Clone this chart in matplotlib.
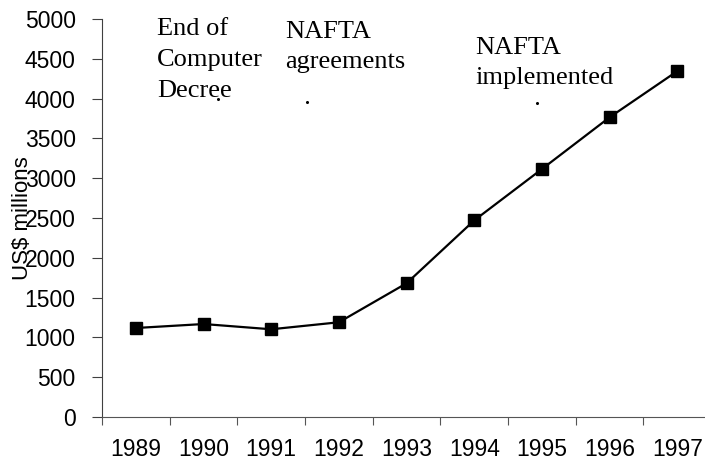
import matplotlib
matplotlib.use("Agg")
import matplotlib.pyplot as plt

years = ["1989", "1990", "1991", "1992", "1993", "1994", "1995", "1996", "1997"]
exports = [1118, 1168, 1102, 1190, 1680, 2470, 3115, 3765, 4345]

events = ["End of\nComputer\nDecree", "NAFTA\nagreements", "NAFTA\nimplemented"]
event_x = [0.31, 2.21, 5.02]
event_y = [5010, 4980, 4780]

fig = plt.figure(figsize=(7.05, 4.62), dpi=100)
ax = fig.add_axes([0.1447, 0.0974, 0.864, 0.8615])

xs = list(range(len(years)))
ax.plot(xs, exports, color="black", lw=1.6, marker="s", ms=8.6,
        mfc="black", mec="black")

ax.set_xlim(-0.5, len(years) - 0.5)
ax.set_ylim(0, 5000)
ax.set_yticks(range(0, 5001, 500))

# category axis: ticks between years, labels on the years
ax.set_xticks([i - 0.5 for i in range(len(years) + 1)])
ax.set_xticklabels([])
ax.set_xticks(xs, minor=True)
ax.set_xticklabels(years, minor=True)
ax.tick_params(axis="x", which="minor", length=0, pad=15)
ax.tick_params(axis="x", which="major", length=6, direction="out", color="#555555")
ax.tick_params(axis="y", length=7, direction="out", color="#404040", pad=12)

for lab in ax.get_xticklabels(minor=True) + ax.get_yticklabels():
    lab.set_family("Liberation Sans")
    lab.set_fontsize(16.5)

ax.spines["top"].set_visible(False)
ax.spines["right"].set_visible(False)
ax.spines["left"].set_color("#404040")
ax.spines["bottom"].set_color("#555555")

ax.set_ylabel("US$ millions", family="Liberation Sans", fontsize=16)
ax.yaxis.set_label_coords(-0.113, 0.5)

for txt, x, y in zip(events, event_x, event_y):
    ax.text(x, y, txt, family="Liberation Serif", fontsize=19, va="top",
            ha="left", linespacing=1.52)

# small leftover arrow tips below the notes
for x, y in zip([1.22, 2.53, 5.93], [3990, 3960, 3950]):
    ax.plot(x, y, marker="o", ms=1.2, color="black")

fig.savefig("out.png", dpi=100)
